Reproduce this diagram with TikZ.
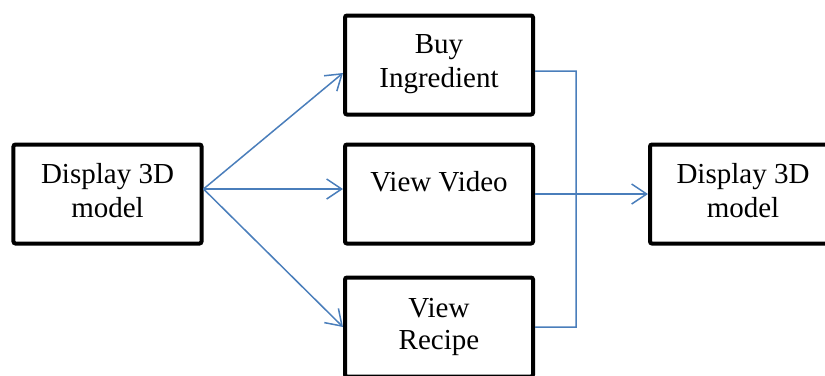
\documentclass[tikz,border=0pt]{standalone}
\usepackage{fontspec}
\setmainfont{Liberation Serif}
\usetikzlibrary{arrows.meta}
\definecolor{connblue}{HTML}{4A7EBB}
\begin{document}
\begin{tikzpicture}[x=1bp,y=-1bp,
 box/.style={draw=black, line width=4bp, rounded corners=2bp, minimum width=188bp, minimum height=99bp, inner sep=0pt, fill=white},
 lbl/.style={anchor=base, inner sep=0pt, font=\fontsize{29bp}{34bp}\selectfont},
 conn/.style={draw=connblue, line width=1.5bp},
 arr/.style={conn, -{Straight Barb[length=15bp, width=20bp, line width=1.5bp]}}]
\useasboundingbox (0,0) rectangle (825,375);
% boxes
\node[box] (L) at (107.5,194) {};
\node[box] (B) at (439,65) {};
\node[box] (V) at (439,194) {};
\node[box] (R) at (439,327) {};
\node[box] (D) at (744,194) {};
% labels
\node[lbl] (Lt1) at (107.5,183) {Display 3D};
\node[lbl] (Lt2) at (107.5,217) {model};
\node[lbl] (Bt1) at (439,53) {Buy};
\node[lbl] (Bt2) at (439,87) {Ingredient};
\node[lbl] (Vt1) at (439,191) {View Video};
\node[lbl] (Rt1) at (439,317) {View};
\node[lbl] (Rt2) at (439,349) {Recipe};
\node[lbl] (Dt1) at (743,183) {Display 3D};
\node[lbl] (Dt2) at (743,217) {model};
% connectors
\coordinate (o) at ([yshift=5bp]L.east);
\draw[arr] (o) -- ([yshift=-8bp]B.west);
\draw[arr] (o) -- ([yshift=5bp]V.west);
\draw[arr] (o) -- (R.west);
\coordinate (jt) at (576,71);
\coordinate (jb) at (576,327);
\draw[conn] ([yshift=-6bp]B.east) -- (jt) -- (jb) -- (R.east);
\draw[arr] (V.east) -- (D.west);
\end{tikzpicture}
\end{document}
